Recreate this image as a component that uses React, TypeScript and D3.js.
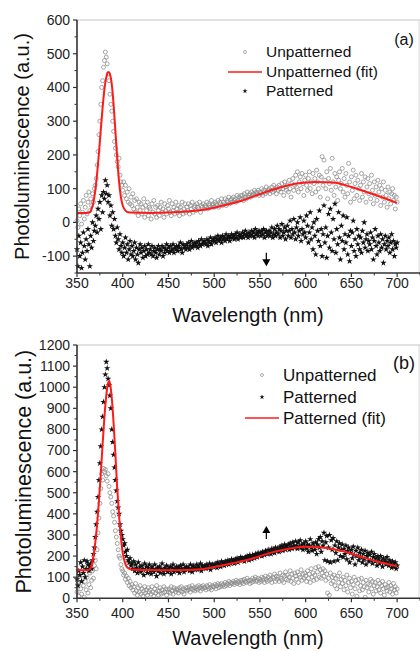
import React from "react";
import * as d3 from "d3";

// Wavelength grid (nm), 1 nm spacing
const wavelengths = d3.range(350, 701, 1);

// Panel (a) Unpatterned (open circles)
const unpatA = [
  5, -15, 40, 20, 55, -5, 30, 65, 10, 45,
  80, 25, 60, 90, 35, 70, 50, 85, 60, 100,
  110, 130, 170, 210, 260, 300, 350, 400, 420, 460,
  480, 505, 490, 470, 440, 420, 380, 350, 330, 300,
  270, 240, 220, 200, 180, 165, 190, 140, 120, 110,
  95, 120, 80, 110, 70, 90, 60, 100, 55, 75,
  50, 85, 40, 65, 30, 70, 45, 20, 60, 35,
  55, 25, 45, 70, 15, 50, 35, 60, 20, 45,
  40, 10, 55, 30, 65, 25, 45, 15, 50, 35,
  20, 45, 60, 30, 40, 15, 55, 35, 25, 50,
  40, 65, 30, 20, 55, 35, 45, 25, 60, 40,
  30, 50, 20, 45, 35, 60, 25, 40, 55, 30,
  45, 35, 55, 25, 50, 40, 60, 30, 45, 50,
  35, 55, 45, 40, 60, 30, 50, 45, 55, 40,
  50, 45, 60, 40, 55, 50, 45, 65, 50, 55,
  45, 60, 55, 50, 65, 45, 60, 55, 70, 50,
  60, 55, 70, 50, 65, 60, 75, 55, 65, 70,
  60, 75, 65, 70, 60, 80, 65, 75, 70, 80,
  70, 80, 65, 85, 75, 70, 90, 75, 80, 85,
  75, 90, 80, 85, 95, 80, 90, 85, 95, 80,
  90, 85, 100, 80, 95, 90, 85, 105, 90, 95,
  100, 85, 95, 105, 90, 110, 95, 100, 85, 105,
  95, 110, 100, 90, 115, 100, 80, 120, 105, 95,
  110, 90, 125, 100, 75, 115, 130, 95, 110, 140,
  105, 150, 90, 120, 135, 100, 145, 115, 80, 125,
  140, 110, 95, 130, 150, 100, 120, 85, 145, 115,
  130, 90, 155, 120, 100, 140, 75, 135, 195, 110,
  185, 125, 100, 150, 70, 130, 115, 160, 95, 190,
  120, 80, 145, 105, 135, 65, 125, 150, 100, 115,
  160, 90, 130, 75, 145, 110, 85, 175, 120, 60,
  135, 95, 155, 70, 115, 140, 80, 125, 100, 65,
  110, 145, 75, 120, 90, 135, 60, 105, 130, 85,
  115, 70, 140, 95, 55, 120, 80, 105, 65, 125,
  90, 110, 50, 100, 75, 120, 60, 95, 80, 45,
  105, 70, 90, 55, 85, 100, 65, 80, 40, 75,
  60,
];

// Panel (a) Patterned (stars)
const patA = [
  -80, -130, -40, -100, -60, -135, -90, -30, -70, -110,
  -50, -85, -20, -65, -130, -40, -75, 0, -55, -25,
  -10, 20, -30, 40, 10, 60, -20, 80, 30, 90,
  70, 125, 85, 110, 60, 80, 20, 50, -10, 30,
  -20, 10, -40, -60, -15, -50, -80, -35, -70, -90,
  -60, -100, -75, -45, -90, -65, -110, -80, -55, -95,
  -70, -100, -85, -60, -110, -75, -95, -120, -80, -65,
  -90, -75, -105, -85, -70, -100, -80, -95, -65, -90,
  -80, -95, -70, -100, -85, -75, -90, -105, -80, -70,
  -95, -80, -85, -70, -100, -75, -90, -80, -65, -85,
  -75, -90, -70, -85, -80, -65, -90, -75, -80, -70,
  -85, -70, -75, -60, -80, -90, -65, -75, -70, -80,
  -65, -75, -60, -80, -70, -55, -75, -65, -70, -60,
  -70, -60, -75, -55, -65, -70, -50, -65, -60, -55,
  -60, -65, -50, -70, -55, -60, -45, -65, -55, -50,
  -55, -45, -60, -50, -40, -55, -50, -45, -60, -40,
  -50, -45, -55, -35, -50, -45, -40, -55, -45, -35,
  -45, -40, -50, -35, -45, -30, -50, -40, -35, -45,
  -40, -30, -45, -35, -25, -40, -35, -45, -30, -40,
  -35, -25, -40, -30, -45, -20, -35, -30, -40, -25,
  -30, -40, -25, -35, -20, -45, -30, -25, -40, -35,
  -25, -40, -30, -15, -45, -35, -20, -40, -30, -10,
  -35, -20, -45, -25, -5, -40, -30, -15, -50, -25,
  -10, -40, -25, 5, -45, -20, -35, 10, -30, -50,
  -15, 0, -40, -25, 15, -55, -20, -35, 5, -30,
  -45, 20, -10, -60, -30, 30, -50, -15, -80, 0,
  -40, -95, 10, -25, -55, 35, -70, -20, -100, -35,
  50, -60, -15, -105, -40, 25, -75, 40, -30, -85,
  10, -50, 55, -90, -20, -65, 30, -45, -110, -10,
  -55, 20, -80, -35, -60, 15, -95, -40, -115, -25,
  -70, -30, 5, -85, -50, -100, -20, -65, -40, -80,
  -45, -90, -25, -60, 0, -75, -50, -35, -85, -55,
  -65, -30, -80, -45, -110, -55, -20, -70, -95, -40,
  -60, -85, -35, -75, -50, -120, -65, -40, -80, -55,
  -70, -45, -90, -60, -35, -80, -55, -100, -65, -75,
  -60,
];

// Panel (a) Unpatterned fit (red)
const fitANm = [350, 360, 364, 366, 368, 370, 372, 374, 376, 378, 380, 382, 384, 385, 386, 388, 390, 392, 394, 396, 398, 400, 403, 406, 410, 430, 450, 470, 490, 510, 530, 550, 570, 590, 610, 630, 650, 670, 690, 700];
const fitAVal = [28, 28, 30, 40, 60, 95, 145, 205, 275, 340, 395, 430, 445, 445, 440, 410, 350, 270, 190, 120, 75, 50, 35, 30, 29, 28, 29, 32, 38, 50, 64, 84, 102, 115, 120, 118, 105, 87, 68, 58];

// Panel (b) Unpatterned (open circles)
const unpatB = [
  30, 70, 10, 90, 45, 20, 110, 60, 5, 80,
  40, 100, 25, 65, 120, 50, 85, 130, 95, 155,
  180, 140, 230, 310, 380, 450, 520, 590, 560, 615,
  600, 610, 580, 555, 590, 530, 500, 480, 450, 410,
  390, 360, 320, 290, 260, 230, 200, 190, 160, 140,
  130, 110, 120, 90, 105, 75, 95, 60, 80, 50,
  65, 40, 55, 25, 70, 35, 15, 50, 30, 60,
  20, 45, 10, 35, 55, 25, 40, 15, 50, 30,
  40, 20, 55, 30, 10, 45, 25, 60, 35, 15,
  35, 50, 20, 40, 25, 55, 30, 45, 15, 40,
  30, 45, 25, 55, 35, 20, 50, 40, 30, 45,
  40, 25, 50, 35, 55, 30, 45, 20, 40, 50,
  35, 50, 40, 55, 30, 45, 60, 40, 50, 35,
  45, 55, 40, 60, 50, 35, 55, 45, 60, 50,
  50, 40, 60, 55, 45, 65, 50, 40, 60, 55,
  55, 65, 45, 60, 70, 50, 65, 55, 70, 60,
  65, 55, 75, 60, 70, 65, 80, 60, 75, 70,
  70, 80, 65, 75, 85, 70, 80, 75, 65, 85,
  75, 85, 70, 90, 80, 75, 95, 80, 85, 70,
  85, 75, 95, 80, 90, 100, 80, 85, 95, 75,
  90, 80, 100, 85, 95, 75, 105, 90, 80, 100,
  85, 110, 90, 75, 100, 95, 115, 80, 105, 90,
  100, 80, 120, 95, 85, 110, 75, 105, 125, 90,
  110, 85, 100, 130, 80, 115, 95, 70, 120, 105,
  90, 125, 75, 110, 100, 135, 85, 115, 95, 120,
  105, 80, 130, 95, 115, 75, 140, 100, 120, 85,
  110, 145, 90, 125, 150, 100, 135, 95, 120, 140,
  105, 130, 85, 115, 25, 95, 15, 120, 70, 100,
  80, 110, 60, 95, 45, 105, 75, 120, 55, 90,
  70, 100, 40, 85, 60, 110, 30, 75, 95, 50,
  80, 20, 65, 100, 45, 85, 10, 70, 90, 35,
  60, 95, 40, 75, 55, 5, 85, 50, 70, 30,
  65, 90, 45, 80, 20, 60, 75, 35, 55, 85,
  40, 70, 25, 60, 80, 45, 15, 65, 50, 35,
  55, 75, 30, 60, 45, 20, 70, 40, 55, 25,
  45,
];

// Panel (b) Patterned (stars)
const patB = [
  90, 60, 130, 110, 170, 80, 150, 120, 180, 100,
  140, 175, 160, 130, 150, 165, 140, 180, 210, 240,
  290, 350, 410, 480, 560, 640, 720, 800, 860, 930,
  1000, 1060, 1120, 1090, 1040, 1010, 960, 900, 800, 740,
  680, 620, 560, 510, 460, 430, 400, 350, 320, 300,
  280, 250, 260, 220, 200, 230, 180, 170, 190, 155,
  165, 140, 175, 130, 160, 145, 120, 170, 135, 150,
  125, 155, 140, 110, 165, 135, 150, 120, 145, 160,
  130, 115, 150, 140, 125, 160, 135, 105, 145, 130,
  150, 120, 140, 165, 130, 115, 145, 135, 155, 125,
  140, 130, 150, 115, 145, 160, 125, 140, 135, 150,
  130, 145, 120, 155, 140, 135, 160, 125, 145, 140,
  150, 135, 145, 130, 160, 140, 125, 155, 145, 135,
  145, 160, 135, 150, 140, 165, 130, 155, 145, 150,
  155, 140, 160, 150, 145, 165, 135, 155, 160, 150,
  160, 150, 165, 145, 170, 155, 160, 150, 175, 160,
  165, 155, 175, 160, 170, 180, 160, 175, 165, 185,
  170, 180, 165, 185, 175, 190, 170, 185, 180, 195,
  180, 190, 185, 175, 195, 185, 200, 190, 180, 205,
  195, 185, 205, 200, 190, 210, 200, 195, 215, 205,
  205, 215, 200, 220, 210, 205, 225, 215, 210, 230,
  215, 225, 210, 235, 220, 230, 215, 240, 225, 235,
  230, 220, 245, 235, 250, 225, 240, 255, 230, 245,
  240, 255, 230, 260, 245, 235, 265, 250, 240, 270,
  250, 235, 265, 245, 275, 240, 255, 230, 260, 245,
  270, 235, 255, 220, 250, 280, 240, 225, 260, 245,
  230, 265, 210, 255, 280, 240, 290, 220, 270, 250,
  310, 180, 265, 295, 175, 240, 300, 170, 275, 230,
  285, 175, 250, 215, 270, 180, 240, 260, 200, 230,
  255, 195, 235, 210, 250, 185, 225, 240, 170, 215,
  230, 190, 245, 205, 160, 225, 200, 240, 180, 215,
  195, 230, 170, 210, 185, 225, 160, 200, 215, 175,
  205, 180, 220, 165, 195, 210, 175, 190, 155, 200,
  185, 165, 200, 175, 150, 190, 170, 180, 160, 195,
  170, 155, 180, 165, 145, 175, 160, 150, 170, 140,
  155,
];

// Panel (b) Patterned fit (red)
const fitBNm = [350, 360, 364, 366, 368, 370, 372, 374, 376, 378, 380, 382, 384, 385, 386, 388, 390, 392, 394, 396, 398, 400, 402, 404, 407, 410, 430, 450, 470, 490, 500, 520, 540, 560, 580, 600, 620, 640, 660, 680, 700];
const fitBVal = [133, 133, 136, 155, 200, 265, 350, 460, 590, 730, 860, 960, 1020, 1028, 1020, 950, 830, 680, 520, 390, 290, 215, 175, 152, 140, 136, 134, 133, 134, 140, 148, 166, 186, 214, 234, 244, 240, 224, 197, 172, 152];

// Ticks
const xTicks = [350, 400, 450, 500, 550, 600, 650, 700];
const xMinor = [375, 425, 475, 525, 575, 625, 675, 725];
const yTicksA = [-100, 0, 100, 200, 300, 400, 500, 600];
const yMinorA = [-150, -50, 50, 150, 250, 350, 450, 550];
const yTicksB = [0, 100, 200, 300, 400, 500, 600, 700, 800, 900, 1000, 1100, 1200];
const yMinorB = [50, 150, 250, 350, 450, 550, 650, 750, 850, 950, 1050, 1150];

const legendA = ["Unpatterned", "Unpatterned (fit)", "Patterned"];
const legendB = ["Unpatterned", "Patterned", "Patterned (fit)"];

const FONT = "'Liberation Sans', Arial, sans-serif";
const RED = "#ff1a1a";
const GRAY = "#8a8a8a";
const STAR = "#111";

const starPath = d3.symbol().type(d3.symbolStar).size(13)() as string;
const starLegend = d3.symbol().type(d3.symbolStar).size(8)() as string;

type PanelProps = {
  top: number; bottom: number; yDomain: [number, number];
  yTicks: number[]; yMinor: number[];
  unpat: number[]; pat: number[];
  fitNm: number[]; fitVal: number[];
  label: string; legend: string[]; legendOrder: string[];
  legendX: number; legendYs: number[]; legendFont: number;
  labelX: number; labelY: number; labelFont: number;
  titleY: number; yTitleX: number; yTitleFont: number;
  xLabelY: number; arrowNm: number; arrowFrom: number; arrowTo: number;
};

const left = 77, right = 420;

function Panel(p: PanelProps) {
  const x = d3.scaleLinear().domain([350, 725]).range([left, right]);
  const y = d3.scaleLinear().domain(p.yDomain).range([p.bottom, p.top]);
  const fitLine = d3.line<number>()
    .x((_, i) => x(p.fitNm[i]))
    .y((v) => y(v))
    .curve(d3.curveMonotoneX);
  const fitPath = fitLine(p.fitVal) as string;
  const ax = x(p.arrowNm);
  const a0 = y(p.arrowFrom), a1 = y(p.arrowTo);
  const dir = a1 > a0 ? 1 : -1;
  const lx = p.legendX;
  const symX = lx - 21;
  return (
    <g>
      {/* frame */}
      <line x1={left} x2={right} y1={p.top} y2={p.top} stroke="#c4c4c4" strokeWidth={1} />
      <line x1={right - 1} x2={right - 1} y1={p.top} y2={p.bottom} stroke="#d8d8d8" strokeWidth={1} />
      {/* data */}
      {p.unpat.map((v, i) => (
        <circle key={"u" + i} cx={x(wavelengths[i])} cy={y(v)} r={2} fill="none" stroke={GRAY} strokeWidth={0.75} />
      ))}
      {p.pat.map((v, i) => (
        <path key={"p" + i} d={starPath} transform={`translate(${x(wavelengths[i])},${y(v)})`} fill={STAR} />
      ))}
      <path d={fitPath} fill="none" stroke={RED} strokeWidth={2} />
      {/* arrow */}
      <line x1={ax} x2={ax} y1={a0} y2={a1 - dir * 5} stroke="#000" strokeWidth={1.2} />
      <path d={`M${ax - 4},${a1 - dir * 7} L${ax + 4},${a1 - dir * 7} L${ax},${a1} Z`} fill="#000" />
      {/* axes */}
      <line x1={left} x2={left} y1={p.top} y2={p.bottom} stroke="#333" strokeWidth={1.6} />
      <line x1={left} x2={right} y1={p.bottom} y2={p.bottom} stroke="#333" strokeWidth={1.6} />
      {p.yTicks.map((t) => (
        <g key={"yt" + t}>
          <line x1={left - 4} x2={left} y1={y(t)} y2={y(t)} stroke="#333" strokeWidth={1.2} />
          <text x={left - 7} y={y(t)} dy="0.35em" textAnchor="end" fontSize={14} fontFamily={FONT} fill="#222">{t}</text>
        </g>
      ))}
      {p.yMinor.map((t) => (
        <line key={"ym" + t} x1={left - 2.5} x2={left} y1={y(t)} y2={y(t)} stroke="#333" strokeWidth={1} />
      ))}
      {xTicks.map((t) => (
        <g key={"xt" + t}>
          <line x1={x(t)} x2={x(t)} y1={p.bottom} y2={p.bottom + 4} stroke="#333" strokeWidth={1.2} />
          <text x={x(t)} y={p.xLabelY} textAnchor="middle" fontSize={14} fontFamily={FONT} fill="#222">{t}</text>
        </g>
      ))}
      {xMinor.map((t) => (
        <line key={"xm" + t} x1={x(t)} x2={x(t)} y1={p.bottom} y2={p.bottom + 2.5} stroke="#333" strokeWidth={1} />
      ))}
      <text x={248} y={p.titleY} textAnchor="middle" fontSize={20} fontFamily={FONT} fill="#111">Wavelength (nm)</text>
      <text transform={`translate(${p.yTitleX},${(p.top + p.bottom) / 2 + 0}) rotate(-90)`} textAnchor="middle" fontSize={p.yTitleFont} fontFamily={FONT} fill="#111">Photoluminescence (a.u.)</text>
      {/* panel label */}
      <text x={p.labelX} y={p.labelY} textAnchor="middle" fontSize={p.labelFont} fontFamily={FONT} fill="#111">{p.label}</text>
      {/* legend */}
      {p.legend.map((name, i) => {
        const ly = p.legendYs[i];
        const kind = p.legendOrder[i];
        return (
          <g key={"lg" + i}>
            {kind === "circle" && <circle cx={symX} cy={ly} r={1.5} fill="none" stroke="#999" strokeWidth={0.8} />}
            {kind === "star" && <path d={starLegend} transform={`translate(${symX},${ly})`} fill={STAR} />}
            {kind === "line" && <line x1={symX - 17} x2={symX + 17} y1={ly} y2={ly} stroke={RED} strokeWidth={1.3} />}
            <text x={lx} y={ly} dy="0.35em" fontSize={p.legendFont} fontFamily={FONT} fill="#111">{name}</text>
          </g>
        );
      })}
    </g>
  );
}

export default function App() {
  return (
    <svg width={420} height={651} style={{ position: "absolute", left: 0, top: 0, background: "#fff" }}>
      <rect width={420} height={651} fill="#fff" />
      <Panel
        top={20} bottom={273} yDomain={[-150, 600]} yTicks={yTicksA} yMinor={yMinorA}
        unpat={unpatA} pat={patA} fitNm={fitANm} fitVal={fitAVal}
        label="(a)" legend={legendA} legendOrder={["circle", "line", "star"]}
        legendX={266} legendYs={[52, 72, 91]} legendFont={15.5}
        labelX={404} labelY={45} labelFont={16}
        titleY={322} yTitleX={29} yTitleFont={20}
        xLabelY={288} arrowNm={557} arrowFrom={-90} arrowTo={-130}
      />
      <Panel
        top={345} bottom={598.3} yDomain={[0, 1200]} yTicks={yTicksB} yMinor={yMinorB}
        unpat={unpatB} pat={patB} fitNm={fitBNm} fitVal={fitBVal}
        label="(b)" legend={legendB} legendOrder={["circle", "star", "line"]}
        legendX={283} legendYs={[375, 397, 418]} legendFont={17}
        labelX={404} labelY={369} labelFont={18}
        titleY={645} yTitleX={31} yTitleFont={21.5}
        xLabelY={618} arrowNm={557} arrowFrom={281} arrowTo={343}
      />
    </svg>
  );
}
